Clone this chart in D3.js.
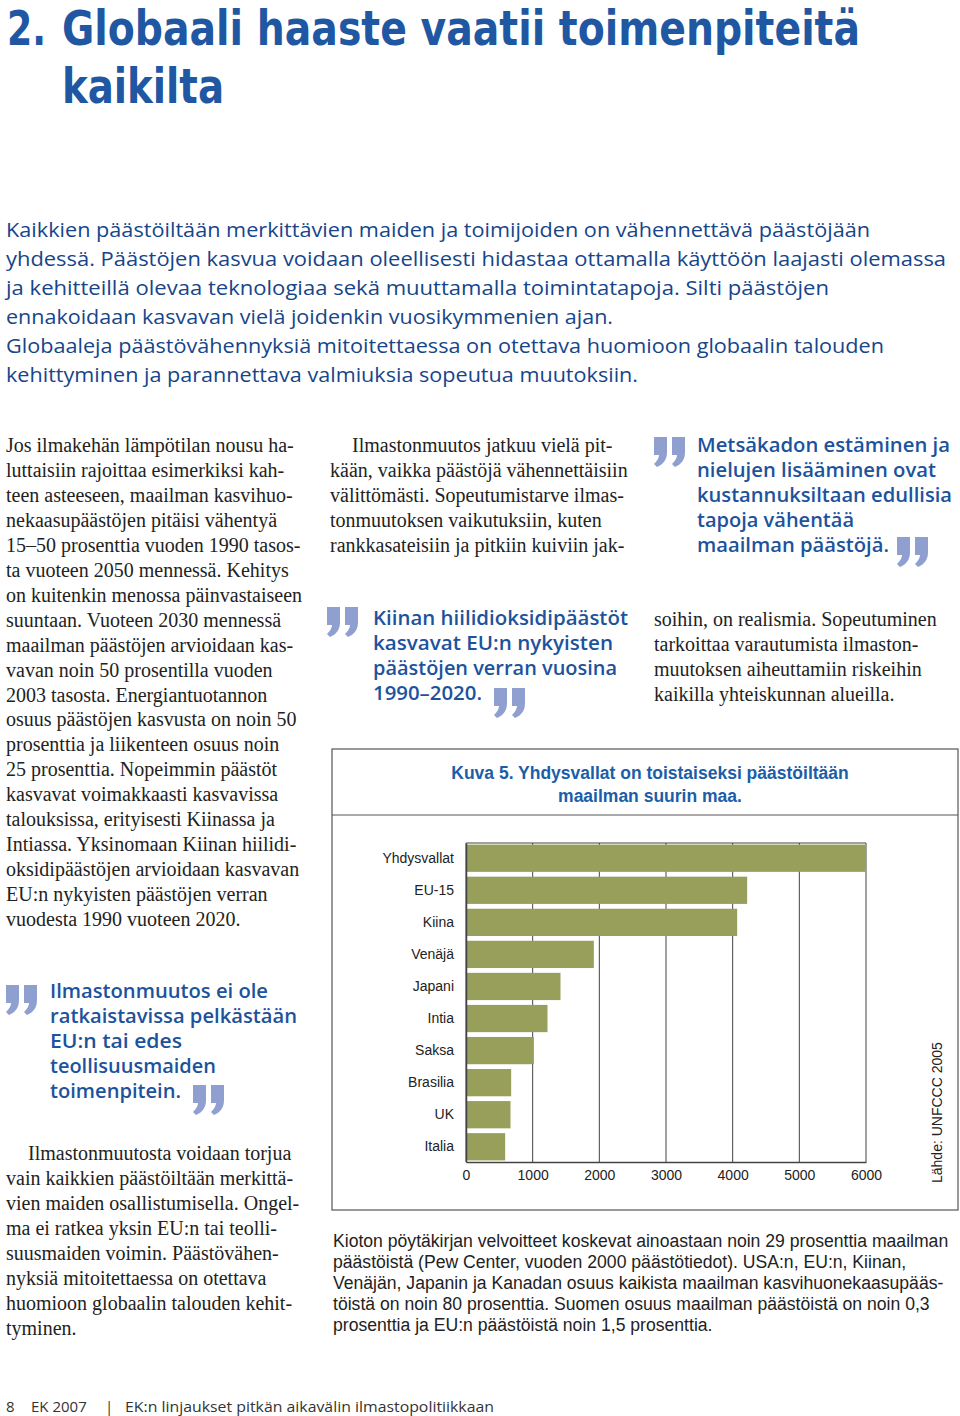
<!DOCTYPE html>
<html>
<head>
<meta charset="utf-8">
<script src="https://cdn.jsdelivr.net/npm/d3@7"></script>
<style>
  html, body { margin: 0; padding: 0; background: #fff; }
  svg { display: block; }
</style>
</head>
<body>
<div id="page"></div>
<script>
// chart data (Kuva 5, UNFCCC 2005)
const countries = ["Yhdysvallat", "EU-15", "Kiina", "Venäjä", "Japani", "Intia", "Saksa", "Brasilia", "UK", "Italia"];
const emissions = [5990, 4210, 4060, 1910, 1410, 1215, 1010, 670, 660, 580];
const xTicks = [0, 1000, 2000, 3000, 4000, 5000, 6000];
const chartTitle = ["Kuva 5. Yhdysvallat on toistaiseksi päästöiltään", "maailman suurin maa."];
const sourceNote = "Lähde: UNFCCC 2005";

const W = 960, H = 1416;
const blue = "#16458a", quoteBlue = "#1c539c", markColor = "#8e9fd0";
const sans = "'Open Sans', 'Noto Sans', sans-serif";
const serif = "'Liberation Serif', 'Times New Roman', serif";
const arial = "'Liberation Sans', Arial, sans-serif";

const svg = d3.select("#page").append("svg")
    .attr("width", W).attr("height", H)
    .attr("viewBox", "0 0 " + W + " " + H);

// helper: draw lines of text, optional right edge to stretch to
function lines(rows, style) {
    rows.forEach(r => {
        const t = svg.append("text")
            .attr("x", r[1]).attr("y", r[2])
            .attr("font-family", style.font)
            .attr("font-size", style.size)
            .attr("font-weight", style.weight || "normal")
            .attr("fill", style.color)
            .text(r[0]);
        if (r[3]) t.attr("textLength", r[3] - r[1]).attr("lengthAdjust", "spacingAndGlyphs");
    });
}

// big "99" quote mark
function mark(x, y) {
    const g = svg.append("g").attr("transform", "translate(" + x + "," + y + ")").attr("fill", markColor);
    const p = "M0,0 H13 V15 C13,22 10,27 3,30 L0,27 C3,24 5,21 5,18 H0 Z";
    g.append("path").attr("d", p);
    g.append("path").attr("d", p).attr("transform", "translate(18,0)");
}

// ---- heading
lines([
    ["2.", 7, 45, 46],
    ["Globaali haaste vaatii toimenpiteitä", 62, 45, 860],
    ["kaikilta", 62, 103, 224]
], { font: "'DejaVu Sans Condensed', 'DejaVu Sans', sans-serif", size: 48, weight: "bold", color: "#1f57a2" });

// ---- intro
lines([
    ["Kaikkien päästöiltään merkittävien maiden ja toimijoiden on vähennettävä päästöjään", 6, 237, 870],
    ["yhdessä. Päästöjen kasvua voidaan oleellisesti hidastaa ottamalla käyttöön laajasti olemassa", 6, 266, 946],
    ["ja kehitteillä olevaa teknologiaa sekä muuttamalla toimintatapoja. Silti päästöjen", 6, 295, 829],
    ["ennakoidaan kasvavan vielä joidenkin vuosikymmenien ajan.", 6, 324, 613],
    ["Globaaleja päästövähennyksiä mitoitettaessa on otettava huomioon globaalin talouden", 6, 353, 884],
    ["kehittyminen ja parannettava valmiuksia sopeutua muutoksiin.", 6, 382, 638]
], { font: sans, size: 20, weight: 500, color: blue });

// ---- body columns
const bodyStyle = { font: serif, size: 20, color: "#222" };
const col1 = ["Jos ilmakehän lämpötilan nousu ha-", "luttaisiin rajoittaa esimerkiksi kah-",
    "teen asteeseen, maailman kasvihuo-", "nekaasupäästöjen pitäisi vähentyä",
    "15–50 prosenttia vuoden 1990 tasos-", "ta vuoteen 2050 mennessä. Kehitys",
    "on kuitenkin menossa päinvastaiseen", "suuntaan. Vuoteen 2030 mennessä",
    "maailman päästöjen arvioidaan kas-", "vavan noin 50 prosentilla vuoden",
    "2003 tasosta. Energiantuotannon", "osuus päästöjen kasvusta on noin 50",
    "prosenttia ja liikenteen osuus noin", "25 prosenttia. Nopeimmin päästöt",
    "kasvavat voimakkaasti kasvavissa", "talouksissa, erityisesti Kiinassa ja",
    "Intiassa. Yksinomaan Kiinan hiilidi-", "oksidipäästöjen arvioidaan kasvavan",
    "EU:n nykyisten päästöjen verran", "vuodesta 1990 vuoteen 2020."];
lines(col1.map((s, i) => [s, 6, 452 + i * 24.95]), bodyStyle);

const col1b = ["Ilmastonmuutosta voidaan torjua", "vain kaikkien päästöiltään merkittä-",
    "vien maiden osallistumisella. Ongel-", "ma ei ratkea yksin EU:n tai teolli-",
    "suusmaiden voimin. Päästövähen-", "nyksiä mitoitettaessa on otettava",
    "huomioon globaalin talouden kehit-", "tyminen."];
lines(col1b.map((s, i) => [s, i === 0 ? 28 : 6, 1160 + i * 25]), bodyStyle);

const col2 = ["Ilmastonmuutos jatkuu vielä pit-", "kään, vaikka päästöjä vähennettäisiin",
    "välittömästi. Sopeutumistarve ilmas-", "tonmuutoksen vaikutuksiin, kuten",
    "rankkasateisiin ja pitkiin kuiviin jak-"];
lines(col2.map((s, i) => [s, i === 0 ? 352 : 330, 452 + i * 25]), bodyStyle);

const col3 = ["soihin, on realismia. Sopeutuminen", "tarkoittaa varautumista ilmaston-",
    "muutoksen aiheuttamiin riskeihin", "kaikilla yhteiskunnan alueilla."];
lines(col3.map((s, i) => [s, 654, 626 + i * 25]), bodyStyle);

// ---- pull quotes
const qStyle = { font: sans, size: 19, weight: 600, color: quoteBlue };
mark(654, 437);
lines([
    ["Metsäkadon estäminen ja", 697, 452, 950],
    ["nielujen lisääminen ovat", 697, 477, 936],
    ["kustannuksiltaan edullisia", 697, 502, 952],
    ["tapoja vähentää", 697, 527, 854],
    ["maailman päästöjä.", 697, 552, 889]
], qStyle);
mark(897, 537);

mark(327, 607);
lines([
    ["Kiinan hiilidioksidipäästöt", 373, 625, 628],
    ["kasvavat EU:n nykyisten", 373, 650, 613],
    ["päästöjen verran vuosina", 373, 675, 617],
    ["1990–2020.", 373, 700, 482]
], qStyle);
mark(494, 688);

mark(6, 985);
lines([
    ["Ilmastonmuutos ei ole", 50, 998, 268],
    ["ratkaistavissa pelkästään", 50, 1023, 297],
    ["EU:n tai edes", 50, 1048, 182],
    ["teollisuusmaiden", 50, 1073, 216],
    ["toimenpitein.", 50, 1098, 181]
], qStyle);
mark(193, 1085);

// ---- chart box
const box = { x0: 332, x1: 958, y0: 749, y1: 1210, sep: 815 };
svg.append("rect")
    .attr("x", box.x0).attr("y", box.y0)
    .attr("width", box.x1 - box.x0).attr("height", box.y1 - box.y0)
    .attr("fill", "none").attr("stroke", "#555").attr("stroke-width", 1.2);
svg.append("line")
    .attr("x1", box.x0).attr("x2", box.x1).attr("y1", box.sep).attr("y2", box.sep)
    .attr("stroke", "#555").attr("stroke-width", 1.2);

svg.selectAll("text.ctitle").data(chartTitle).enter().append("text")
    .attr("class", "ctitle")
    .attr("x", 650).attr("y", (d, i) => 779 + i * 23)
    .attr("text-anchor", "middle")
    .attr("font-family", arial).attr("font-size", 17.5).attr("font-weight", "bold")
    .attr("fill", "#1b5ea8")
    .text(d => d);

const x = d3.scaleLinear().domain([0, 6000]).range([466, 866]);
const y = d3.scaleBand().domain(countries).range([843, 1162]).paddingInner(0.15).paddingOuter(0.05);
const plotTop = 843, plotBottom = 1162;

// grid
svg.append("g").selectAll("line").data(xTicks).enter().append("line")
    .attr("x1", d => x(d)).attr("x2", d => x(d))
    .attr("y1", plotTop).attr("y2", plotBottom)
    .attr("stroke", "#444").attr("stroke-width", 1);
svg.append("line")
    .attr("x1", x(0)).attr("x2", x(6000)).attr("y1", plotTop).attr("y2", plotTop)
    .attr("stroke", "#444").attr("stroke-width", 1);

// bars
svg.append("g").selectAll("rect").data(countries).enter().append("rect")
    .attr("x", x(0) + 0.5)
    .attr("y", d => y(d))
    .attr("width", (d, i) => x(emissions[i]) - x(0))
    .attr("height", y.bandwidth())
    .attr("fill", "#979f5b");

// axes
const xAxis = svg.append("g")
    .attr("transform", "translate(0," + plotBottom + ")")
    .call(d3.axisBottom(x).tickValues(xTicks).tickSize(0).tickPadding(8).tickFormat(d3.format("d")));
xAxis.select(".domain").attr("stroke", "#444").attr("stroke-width", 1.5);
xAxis.selectAll("text").attr("font-family", arial).attr("font-size", 14).attr("fill", "#222");

const yAxis = svg.append("g")
    .attr("transform", "translate(" + x(0) + ",0)")
    .call(d3.axisLeft(y).tickSize(0).tickPadding(12));
yAxis.select(".domain").attr("stroke", "#444").attr("stroke-width", 1.5);
yAxis.selectAll("text").attr("font-family", arial).attr("font-size", 14).attr("fill", "#222");

svg.append("text")
    .attr("transform", "translate(942,1183) rotate(-90)")
    .attr("font-family", arial).attr("font-size", 14).attr("fill", "#222")
    .text(sourceNote);

// ---- caption
lines([
    ["Kioton pöytäkirjan velvoitteet koskevat ainoastaan noin 29 prosenttia maailman", 333, 1247],
    ["päästöistä (Pew Center, vuoden 2000 päästötiedot). USA:n, EU:n, Kiinan,", 333, 1268],
    ["Venäjän, Japanin ja Kanadan osuus kaikista maailman kasvihuonekaasupääs-", 333, 1289],
    ["töistä on noin 80 prosenttia. Suomen osuus maailman päästöistä on noin 0,3", 333, 1310],
    ["prosenttia ja EU:n päästöistä noin 1,5 prosenttia.", 333, 1331]
], { font: arial, size: 17.6, color: "#222" });

// ---- footer
lines([
    ["8", 6, 1412],
    ["EK 2007", 31, 1412],
    ["|", 105, 1412],
    ["EK:n linjaukset pitkän aikavälin ilmastopolitiikkaan", 125, 1412, 494]
], { font: sans, size: 15, color: "#333" });
</script>
</body>
</html>
